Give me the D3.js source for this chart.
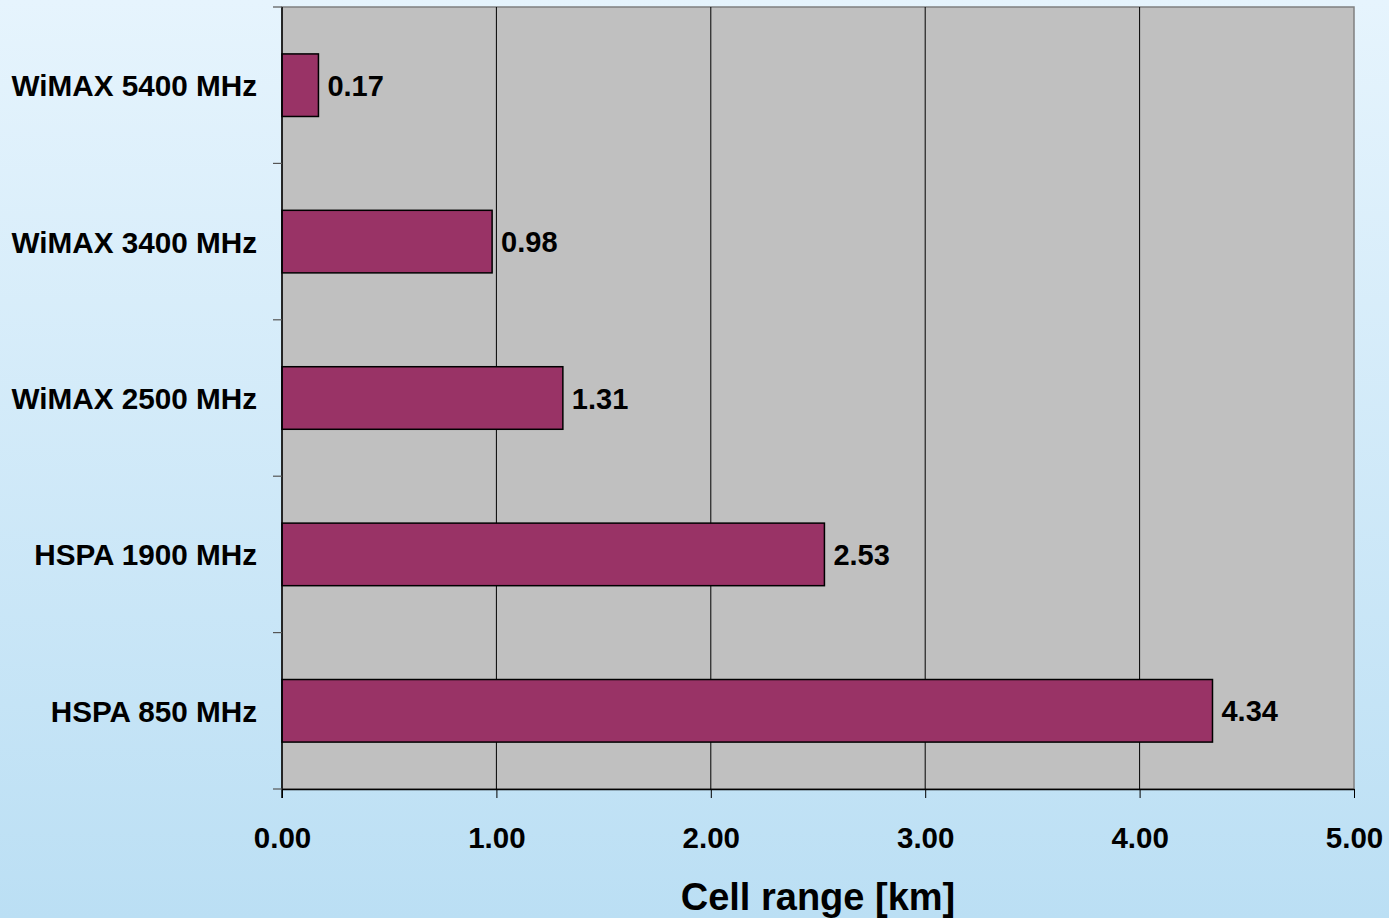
<!DOCTYPE html>
<html>
<head>
<meta charset="utf-8">
<script src="https://cdn.jsdelivr.net/npm/d3@7"></script>
<style>
  html, body { margin: 0; padding: 0; overflow: hidden; }
  svg { display: block; }
  text { font-family: "Liberation Sans", Arial, sans-serif; font-weight: bold; fill: #000; }
</style>
</head>
<body>
<script>
// Cell range per technology / frequency band (km)
const categories = ["WiMAX 5400 MHz", "WiMAX 3400 MHz", "WiMAX 2500 MHz", "HSPA 1900 MHz", "HSPA 850 MHz"];
const cellRange = [0.17, 0.98, 1.31, 2.53, 4.34];
const xTicks = [0, 1, 2, 3, 4, 5];
const xTitle = "Cell range [km]";

const W = 1389, H = 918;
const m = { top: 7, right: 35, bottom: 129, left: 282 };
const iw = W - m.left - m.right, ih = H - m.top - m.bottom;

const svg = d3.select("body").append("svg").attr("width", W).attr("height", H);

// Page background: soft light-blue vertical gradient
const defs = svg.append("defs");
const grad = defs.append("linearGradient").attr("id", "bg").attr("x1", 0).attr("y1", 0).attr("x2", 0).attr("y2", 1);
grad.append("stop").attr("offset", "0%").attr("stop-color", "#e6f4fd");
grad.append("stop").attr("offset", "100%").attr("stop-color", "#bbdff4");
svg.append("rect").attr("width", W).attr("height", H).attr("fill", "url(#bg)");

const g = svg.append("g").attr("transform", `translate(${m.left},${m.top})`);

const x = d3.scaleLinear().domain([0, 5]).range([0, iw]);
const y = d3.scaleBand().domain(categories).range([0, ih]).paddingInner(0.6).paddingOuter(0.3);

// Plot area
g.append("rect").attr("width", iw).attr("height", ih).attr("fill", "#c0c0c0")
  .attr("stroke", "#808080").attr("stroke-width", 1.5);

// Vertical gridlines
g.append("g").selectAll("line").data(xTicks.slice(1, -1)).join("line")
  .attr("x1", d => x(d)).attr("x2", d => x(d))
  .attr("y1", 0).attr("y2", ih)
  .attr("stroke", "#000").attr("stroke-width", 1);

// Bars
g.append("g").selectAll("rect").data(cellRange).join("rect")
  .attr("x", 0)
  .attr("y", (d, i) => y(categories[i]))
  .attr("width", d => x(d))
  .attr("height", y.bandwidth())
  .attr("fill", "#993366")
  .attr("stroke", "#000").attr("stroke-width", 1.5);

// Value labels
g.append("g").selectAll("text").data(cellRange).join("text")
  .attr("x", d => x(d) + 9)
  .attr("y", (d, i) => y(categories[i]) + y.bandwidth() / 2 + 10.5)
  .attr("font-size", 29)
  .text(d => d.toFixed(2));

// X axis
const xAxis = g.append("g").attr("transform", `translate(0,${ih})`)
  .call(d3.axisBottom(x).tickValues(xTicks).tickFormat(d3.format(".2f")).tickSizeInner(9).tickSizeOuter(0).tickPadding(29));
xAxis.select(".domain").attr("stroke", "#000").attr("stroke-width", 1.5);
xAxis.selectAll(".tick line").attr("stroke", "#000");
xAxis.selectAll(".tick text").attr("font-size", 29.5).attr("font-family", null).attr("fill", "#000");

// Y axis: ticks sit on the band boundaries
const yAxis = g.append("g");
yAxis.append("line").attr("x1", 0).attr("x2", 0).attr("y1", 0).attr("y2", ih + 9)
  .attr("stroke", "#000").attr("stroke-width", 1.5);
const step = ih / categories.length;
yAxis.selectAll("line.tk").data(d3.range(categories.length + 1)).join("line")
  .attr("class", "tk")
  .attr("x1", -9).attr("x2", 0)
  .attr("y1", i => i * step).attr("y2", i => i * step)
  .attr("stroke", "#555").attr("stroke-width", 1.2);
yAxis.selectAll("text").data(categories).join("text")
  .attr("x", -25)
  .attr("y", d => y(d) + y.bandwidth() / 2 + 11)
  .attr("text-anchor", "end")
  .attr("font-size", 29.7)
  .text(d => d);

// Axis title
svg.append("text")
  .attr("x", m.left + iw / 2)
  .attr("y", 910)
  .attr("text-anchor", "middle")
  .attr("font-size", 38)
  .text(xTitle);
</script>
</body>
</html>
